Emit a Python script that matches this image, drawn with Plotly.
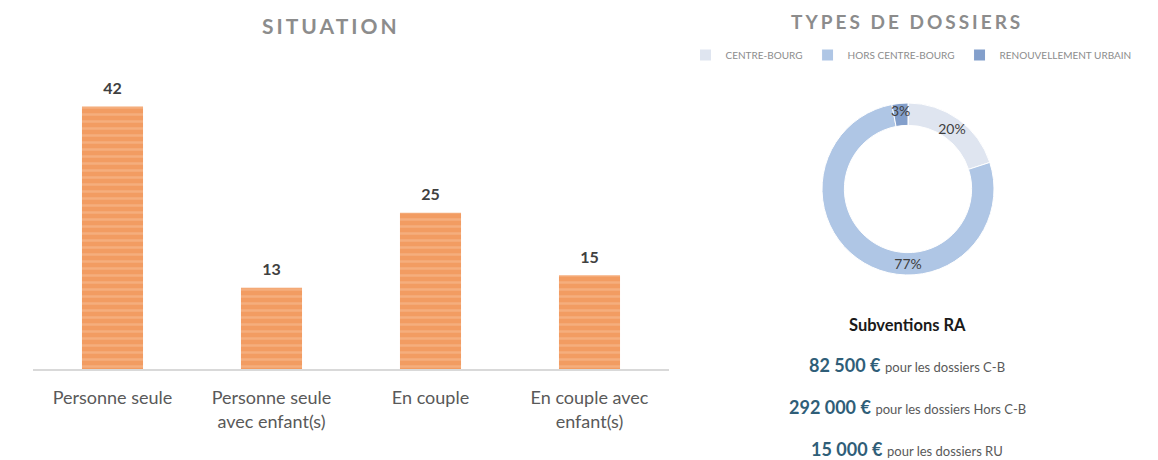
import plotly.graph_objects as go

# ---- data ----
categories = ["Personne seule", "Personne seule<br>avec enfant(s)", "En couple", "En couple avec<br>enfant(s)"]
counts = [42, 13, 25, 15]

dossier_types = ["CENTRE-BOURG", "HORS CENTRE-BOURG", "RENOUVELLEMENT URBAIN"]
dossier_pct = [20, 77, 3]
dossier_colors = ["#DFE5F0", "#AFC6E5", "#839FCB"]

subv_amounts = ["82 500 €", "292 000 €", "15 000 €"]
subv_labels = ["pour les dossiers C-B", "pour les dossiers Hors C-B", "pour les dossiers RU"]

# the page body has an 8px margin: the figure starts at (8, 8) of the window
OFF = 8
W, H = 1158 - OFF, 460 - OFF
FONT = "Lato"

def px(x):
    return (x - OFF) / W

def py(y):
    return 1 - (y - OFF) / H

fig = go.Figure()

fig.add_trace(go.Bar(
    x=categories, y=counts,
    marker=dict(color="#F29C62",
                pattern=dict(shape="-", fgcolor="#F7BF98", bgcolor="#F29C62", size=7, solidity=0.35),
                line=dict(width=0)),
    showlegend=False, hoverinfo="skip",
))
# value labels above bars (transparent marker sets the gap)
fig.add_trace(go.Scatter(
    x=categories, y=counts, mode="markers+text",
    text=[str(v) for v in counts], textposition="top center",
    textfont=dict(family=FONT, size=16, color="#404040", weight="bold"),
    marker=dict(size=12, color="rgba(0,0,0,0)"),
    cliponaxis=False, showlegend=False, hoverinfo="skip",
))

fig.add_trace(go.Pie(
    labels=dossier_types, values=dossier_pct, hole=0.74, sort=False,
    direction="clockwise", rotation=0,
    marker=dict(colors=dossier_colors, line=dict(color="white", width=1)),
    texttemplate="%{value}%", textposition="inside", insidetextorientation="horizontal",
    textfont=dict(family=FONT, size=14, color="#404040"),
    domain=dict(x=[px(822), px(994)], y=[py(275), py(103)]),
    hoverinfo="skip",
))

annotations = [
    dict(text="<span style='letter-spacing:3px'>SITUATION</span>", x=px(331), y=py(25),
         font=dict(family=FONT, size=21, color="#8C8C8C", weight="bold")),
    dict(text="<span style='letter-spacing:3px'>TYPES DE DOSSIERS</span>", x=px(907), y=1,
         yanchor="top", font=dict(family=FONT, size=19, color="#8C8C8C", weight="bold")),
    dict(text="<b>Subventions RA</b>", x=px(907), y=py(325),
         font=dict(family=FONT, size=16.5, color="#1A1A1A")),
]
for i, (amt, lab) in enumerate(zip(subv_amounts, subv_labels)):
    annotations.append(dict(
        text=f"<b>{amt}</b> <span style='font-size:13px;color:#595959'>{lab}</span>",
        x=px(907), y=py(365 + i * 42),
        font=dict(family=FONT, size=18, color="#2F5E78")))
for a in annotations:
    a.setdefault("yanchor", "middle")
    a.update(xref="paper", yref="paper", showarrow=False, xanchor="center")

fig.update_layout(
    width=W, height=H, margin=dict(l=0, r=0, t=0, b=0),
    paper_bgcolor="white", plot_bgcolor="white",
    bargap=0.616,
    font=dict(family=FONT),
    uniformtext=dict(minsize=14, mode="show"),
    xaxis=dict(domain=[px(33), px(669)], showline=True, linecolor="#D9D9D9", linewidth=1.5,
               ticks="", showgrid=False, zeroline=False, ticklabelstandoff=12,
               tickfont=dict(family=FONT, size=18, color="#595959")),
    yaxis=dict(domain=[py(369), py(69)], range=[0, 48], visible=False, showgrid=False, zeroline=False),
    legend=dict(orientation="h", x=px(911), xanchor="center", y=py(55), yanchor="middle",
                font=dict(family=FONT, size=10, color="#8C8C8C"), itemwidth=30),
    annotations=annotations,
)

fig.write_html("out.html")
